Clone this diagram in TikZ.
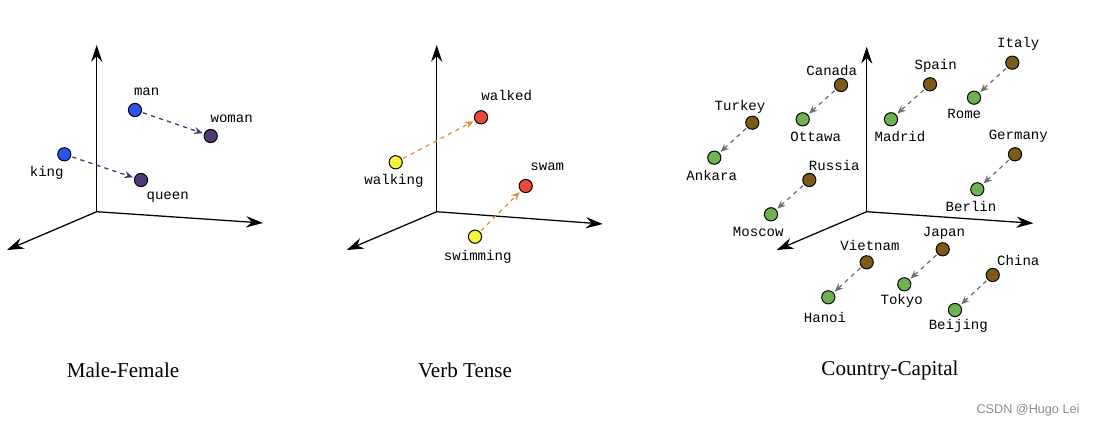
\documentclass[tikz,border=0pt]{standalone}
\usepackage{fontspec}
\setmainfont{Liberation Serif}
\setmonofont{Liberation Mono}
\setsansfont{Liberation Sans}
\usetikzlibrary{arrows.meta}
\definecolor{kingblue}{HTML}{2A52EE}
\definecolor{queenpurple}{HTML}{4F3A78}
\definecolor{verbyellow}{HTML}{F7F23A}
\definecolor{verbred}{HTML}{E8493A}
\definecolor{countrybrown}{HTML}{7D5A18}
\definecolor{capitalgreen}{HTML}{6DB352}
\definecolor{gendarrow}{HTML}{3C3A6E}
\definecolor{tensearrow}{HTML}{E0923A}
\definecolor{caparrow}{HTML}{707070}
\begin{document}
\begin{tikzpicture}[x=0.025cm,y=-0.025cm,
  dot/.style={draw,circle,inner sep=0pt,minimum size=0.33cm,line width=0.7pt},
  word/.style={font=\ttfamily\fontsize{10}{12}\selectfont,inner sep=0pt},
  axis/.style={-{Stealth[length=12pt,width=8pt,inset=4pt]},line width=0.9pt},
  pairarrow/.style={-{Stealth[length=6pt,width=5pt,inset=2pt]},dashed,line width=0.9pt,shorten >=1pt,shorten <=1pt},
  caption/.style={font=\fontsize{15}{18}\selectfont}]
\useasboundingbox (0,0) rectangle (1100,426);
% Male-Female
\coordinate (o1) at (96.7,211.7);
\coordinate (up1) at (96.7,45);
\coordinate (r1) at (263,223);
\coordinate (l1) at (7,250);
\draw[axis] (o1) -- (up1);
\draw[axis] (o1) -- (r1);
\draw[axis] (o1) -- (l1);
\node[dot,fill=kingblue] (man) at (135,110) {};
\node[dot,fill=queenpurple] (woman) at (210.7,136) {};
\node[dot,fill=kingblue] (king) at (64.3,154.3) {};
\node[dot,fill=queenpurple] (queen) at (141,180) {};
\node[word] at (146.7,91.7) {man};
\node[word] at (231.7,118.3) {woman};
\node[word] at (46.7,173.3) {king};
\node[word] at (167.7,196.7) {queen};
\draw[pairarrow,gendarrow] (man) -- (woman);
\draw[pairarrow,gendarrow] (king) -- (queen);
% Verb Tense
\coordinate (o2) at (436.7,211.7);
\coordinate (up2) at (436.7,45);
\coordinate (r2) at (602.7,224);
\coordinate (l2) at (346.7,250);
\draw[axis] (o2) -- (up2);
\draw[axis] (o2) -- (r2);
\draw[axis] (o2) -- (l2);
\node[dot,fill=verbred] (walked) at (481,117.3) {};
\node[dot,fill=verbyellow] (walking) at (395.7,162.3) {};
\node[dot,fill=verbred] (swam) at (525.7,186) {};
\node[dot,fill=verbyellow] (swimming) at (475,236.7) {};
\node[word] at (506.7,95.7) {walked};
\node[word] at (394,181) {walking};
\node[word] at (547.3,166.7) {swam};
\node[word] at (477.7,256.7) {swimming};
\draw[pairarrow,tensearrow] (walking) -- (walked);
\draw[pairarrow,tensearrow] (swimming) -- (swam);
% Country-Capital
\coordinate (o3) at (866.7,211.7);
\coordinate (up3) at (866.7,46.7);
\coordinate (r3) at (1033.3,223.3);
\coordinate (l3) at (776.7,250);
\draw[axis] (o3) -- (up3);
\draw[axis] (o3) -- (r3);
\draw[axis] (o3) -- (l3);
\foreach \cn/\cx/\cy/\clx/\cly/\pn/\px/\py/\plx/\ply in {
  Canada/841/85/831.7/70.7/Ottawa/802.7/119.3/815.7/136.7,
  Turkey/752.3/122.7/740/107.3/Ankara/714.3/157.7/711.7/175.7,
  Spain/930/84.3/935.7/66/Madrid/891/119.3/900/136.7,
  Italy/1012.3/62.7/1018.3/44/Rome/974/97.7/964.3/114,
  Germany/1015/154.3/1018.3/136/Berlin/977.3/189.3/971/206.7,
  Russia/809.3/180/834.3/165.7/Moscow/771/214.3/758.3/231.7,
  Vietnam/866.7/262.3/870/245/Hanoi/828.3/297.3/825/317.3,
  Japan/942.7/249.3/944/233.3/Tokyo/904.3/284.3/901.7/300.7,
  China/992.7/275/1018.3/260.7/Beijing/955/310/958.3/326}{
  \node[dot,fill=countrybrown] (\cn) at (\cx,\cy) {};
  \node[dot,fill=capitalgreen] (\pn) at (\px,\py) {};
  \node[word] at (\clx,\cly) {\cn};
  \node[word] at (\plx,\ply) {\pn};
  \draw[pairarrow,caparrow] (\cn) -- (\pn);
}
% captions
\node[caption] (cap1) at (123,370) {Male-Female};
\node[caption] (cap2) at (465,370) {Verb Tense};
\node[caption] (cap3) at (890,370) {Country-Capital};
\node[font=\sffamily\fontsize{9}{11}\selectfont,text=black!45] (mark) at (1028,410) {CSDN @Hugo Lei};
\end{tikzpicture}
\end{document}
